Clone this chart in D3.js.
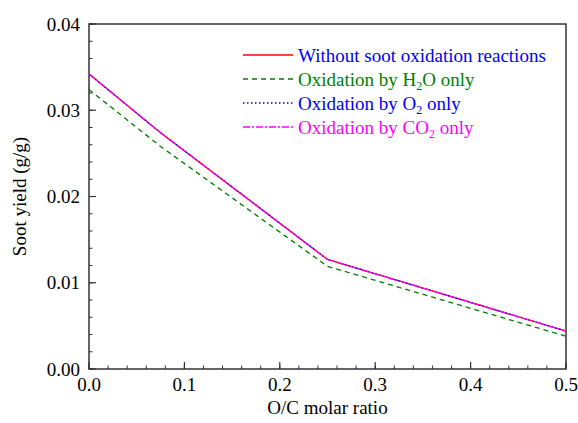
<!DOCTYPE html>
<html>
<head>
<meta charset="utf-8">
<script src="https://cdn.jsdelivr.net/npm/d3@7"></script>
<style>
  body { margin: 0; background: #fff; }
  svg { display: block; }
</style>
</head>
<body>
<svg id="chart" width="578" height="423" font-family="'Times New Roman', Times, Tinos, 'Liberation Serif', 'Noto Serif', 'DejaVu Serif', serif"></svg>
<script>
// O/C molar ratio
const ratios = [0, 0.075, 0.25, 0.5];
// soot yield (g/g) for each case
const noOxidation = [0.0342, 0.0274, 0.0127, 0.0044];
const h2oOnly = [0.0324, 0.0258, 0.0119, 0.0038];
const o2Only = [0.0342, 0.0274, 0.0127, 0.0044];
const co2Only = [0.0342, 0.0274, 0.0127, 0.0044];

const xTicks = [0, 0.1, 0.2, 0.3, 0.4, 0.5];
const yTicks = [0, 0.01, 0.02, 0.03, 0.04];

const series = [
  { name: "Without soot oxidation reactions", values: noOxidation, color: "#ff0000", text: "#0000ff", dash: null },
  { name: "h2o", values: h2oOnly, color: "#008000", text: "#008000", dash: "5,4" },
  { name: "o2", values: o2Only, color: "#0000ff", text: "#0000ff", dash: "1.5,2.5" },
  { name: "co2", values: co2Only, color: "#ff00ff", text: "#ff00ff", dash: "7,2,2,2" }
];

const plotL = 89, plotR = 566, plotT = 24, plotB = 369;
const svg = d3.select("#chart");

const x = d3.scaleLinear().domain([0, 0.5]).range([plotL, plotR]);
const y = d3.scaleLinear().domain([0, 0.04]).range([plotB, plotT]);

// plot frame
svg.append("rect")
  .attr("x", plotL).attr("y", plotT)
  .attr("width", plotR - plotL).attr("height", plotB - plotT)
  .attr("fill", "none").attr("stroke", "#333").attr("stroke-width", 1.5);

// ticks pointing inward
const xAxis = svg.append("g").attr("transform", `translate(0,${plotB})`);
xAxis.selectAll("line.minor")
  .data(d3.range(0, 0.5001, 0.02))
  .enter().append("line")
  .attr("x1", d => x(d)).attr("x2", d => x(d))
  .attr("y1", 0).attr("y2", -3.5)
  .attr("stroke", "#333").attr("stroke-width", 1);
xAxis.selectAll("line.major")
  .data(xTicks)
  .enter().append("line")
  .attr("x1", d => x(d)).attr("x2", d => x(d))
  .attr("y1", 0).attr("y2", -7)
  .attr("stroke", "#333").attr("stroke-width", 1.2);
xAxis.selectAll("text")
  .data(xTicks)
  .enter().append("text")
  .attr("x", d => x(d)).attr("y", 22)
  .attr("text-anchor", "middle")
  .attr("font-size", 19)
  .text(d => d3.format(".1f")(d));

const yAxis = svg.append("g").attr("transform", `translate(${plotL},0)`);
yAxis.selectAll("line.minor")
  .data(d3.range(0, 0.04001, 0.002))
  .enter().append("line")
  .attr("x1", 0).attr("x2", 3.5)
  .attr("y1", d => y(d)).attr("y2", d => y(d))
  .attr("stroke", "#333").attr("stroke-width", 1);
yAxis.selectAll("line.major")
  .data(yTicks)
  .enter().append("line")
  .attr("x1", 0).attr("x2", 7)
  .attr("y1", d => y(d)).attr("y2", d => y(d))
  .attr("stroke", "#333").attr("stroke-width", 1.2);
yAxis.selectAll("text")
  .data(yTicks)
  .enter().append("text")
  .attr("x", -9).attr("y", d => y(d))
  .attr("dy", "0.35em")
  .attr("text-anchor", "end")
  .attr("font-size", 19)
  .text(d => d3.format(".2f")(d));

// axis titles
svg.append("text")
  .attr("x", (plotL + plotR) / 2).attr("y", 414)
  .attr("text-anchor", "middle").attr("font-size", 19)
  .text("O/C molar ratio");
svg.append("text")
  .attr("transform", `translate(26,${(plotT + plotB) / 2}) rotate(-90)`)
  .attr("text-anchor", "middle").attr("font-size", 19)
  .text("Soot yield (g/g)");

// lines
const line = d3.line()
  .x((d, i) => x(ratios[i]))
  .y(d => y(d));

svg.selectAll("path.series")
  .data(series)
  .enter().append("path")
  .attr("class", "series")
  .attr("d", d => line(d.values))
  .attr("fill", "none")
  .attr("stroke", d => d.color)
  .attr("stroke-width", 1.3)
  .attr("stroke-dasharray", d => d.dash);

// legend
const legend = svg.append("g");
const rows = legend.selectAll("g")
  .data(series)
  .enter().append("g")
  .attr("transform", (d, i) => `translate(243,${55 + i * 24})`);
rows.append("line")
  .attr("x1", 0).attr("x2", 50)
  .attr("stroke", d => d.color)
  .attr("stroke-width", 1.3)
  .attr("stroke-dasharray", d => d.dash);

const labels = rows.append("text")
  .attr("x", 55).attr("dy", "0.35em")
  .attr("font-size", 19)
  .attr("fill", d => d.text);

// subscripts kept as tspans
labels.each(function (d, i) {
  const t = d3.select(this);
  if (i === 0) { t.text(d.name); return; }
  const parts = [
    null,
    ["Oxidation by H", "2", "O only"],
    ["Oxidation by O", "2", " only"],
    ["Oxidation by CO", "2", " only"]
  ][i];
  t.append("tspan").text(parts[0]);
  t.append("tspan").attr("font-size", 12).attr("dy", 4).text(parts[1]);
  t.append("tspan").attr("dy", -4).text(parts[2]);
});
</script>
</body>
</html>
